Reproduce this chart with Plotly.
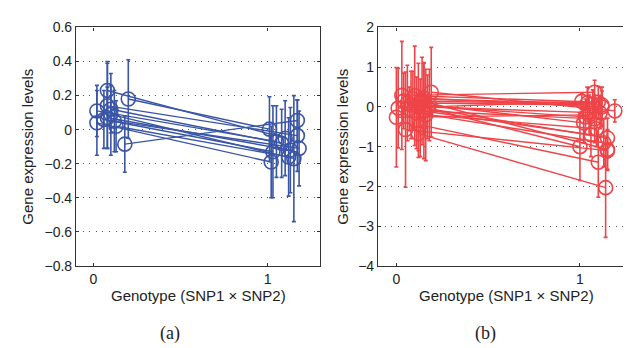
import plotly.graph_objects as go

# ---- data: panel (a) ----
a_x_left = [0.02, 0.02, 0.08, 0.08, 0.08, 0.06, 0.10, 0.13, 0.20, 0.18, 0.12, 0.10]
a_y_left = [0.11, 0.04, 0.23, 0.14, 0.07, 0.06, 0.09, 0.02, 0.18, -0.085, 0.05, 0.12]
a_e_left = [0.15, 0.19, 0.17, 0.25, 0.18, 0.17, 0.24, 0.15, 0.23, 0.165, 0.18, 0.14]
a_x_right = [1.05, 1.02, 1.10, 1.17, 1.13, 1.03, 1.15, 1.12, 1.01, 1.17, 1.18, 1.08]
a_y_right = [-0.07, -0.19, -0.05, -0.035, -0.12, -0.13, -0.17, -0.16, 0.003, 0.054, -0.11, -0.08]
a_e_right = [0.21, 0.21, 0.22, 0.21, 0.25, 0.27, 0.37, 0.23, 0.19, 0.12, 0.22, 0.20]

# ---- data: panel (b) ----
b_x_left = [0.03, 0.01, 0.00, 0.05, 0.10, 0.19, 0.06, 0.13, 0.12, 0.14, 0.15, 0.18,
            0.16, 0.09, 0.13, 0.07, 0.17, 0.11, 0.04, 0.12, 0.08, 0.15]
b_y_left = [0.29, -0.03, -0.26, -0.57, 0.28, 0.37, 0.10, -0.45, 0.00, 0.15, -0.10, 0.05,
            -0.20, 0.20, 0.10, -0.05, 0.00, -0.15, 0.15, -0.67, 0.05, 0.22]
b_e_left = [1.36, 1.00, 1.25, 1.45, 1.25, 1.13, 0.95, 0.80, 1.10, 1.10, 1.20, 0.90,
            1.15, 0.70, 0.60, 0.55, 0.80, 0.90, 0.70, 0.60, 0.85, 0.90]
b_x_right = [1.08, 1.01, 1.05, 1.15, 1.10, 1.19, 1.00, 1.10, 1.15, 1.15, 1.08, 1.02,
             1.09, 1.04, 1.12, 1.06, 1.11, 1.13, 1.07, 1.14, 1.03, 1.12]
b_y_right = [0.37, 0.14, -0.20, -1.10, 0.12, -0.10, -1.00, -1.39, -0.78, -1.07, -0.30, -0.40,
             -0.55, 0.10, 0.05, -0.70, -0.15, -0.90, 0.08, -2.03, -0.25, 0.00]
b_e_right = [0.30, 0.20, 0.50, 0.50, 0.40, 0.28, 0.85, 0.88, 0.50, 0.50, 0.60, 0.50,
             0.45, 0.40, 0.35, 0.55, 0.40, 0.60, 0.35, 1.25, 0.45, 0.50]

BLUE = "#3a55a5"
RED = "#ee4448"

fig = go.Figure()


def add_panel(xl, yl, el, xr, yr, er, color, xa, ya):
    for i in range(len(xl)):
        fig.add_trace(go.Scatter(
            x=[xl[i], xr[i]], y=[yl[i], yr[i]],
            mode="lines+markers",
            line=dict(color=color, width=1.4),
            marker=dict(symbol="circle-open", size=14, color=color,
                        line=dict(width=1.6, color=color)),
            error_y=dict(type="data", array=[el[i], er[i]], visible=True,
                         color=color, thickness=1.6, width=2),
            xaxis=xa, yaxis=ya, showlegend=False, hoverinfo="skip",
        ))


add_panel(a_x_left, a_y_left, a_e_left, a_x_right, a_y_right, a_e_right, BLUE, "x", "y")
add_panel(b_x_left, b_y_left, b_e_left, b_x_right, b_y_right, b_e_right, RED, "x2", "y2")

W, H = 631, 348
FONT = "Liberation Sans, Arial, sans-serif"
TXT = "#222222"

axis_common = dict(
    showline=True, linecolor="#333333", linewidth=1.2, mirror="ticks",
    ticks="inside", ticklen=3, tickcolor="#333333", zeroline=False,
    tickfont=dict(family=FONT, size=14, color=TXT),
)
grid = dict(showgrid=True, gridcolor="#555555", griddash="1px,5.6px", gridwidth=1)

ydom = [1 - 262 / H, 1 - 12 / H]
fig.update_layout(
    width=W, height=H,
    margin=dict(l=0, r=0, t=0, b=0),
    paper_bgcolor="white", plot_bgcolor="white",
    xaxis=dict(domain=[68 / W, 312 / W], range=[-0.1, 1.3], tickvals=[0, 1],
               showgrid=False, anchor="y", **axis_common),
    yaxis=dict(domain=ydom, range=[-0.8, 0.6], dtick=0.2, tick0=0,
               anchor="x", **grid, **axis_common),
    xaxis2=dict(domain=[370 / W, 627 / W], range=[-0.1, 1.3], tickvals=[0, 1],
                showgrid=False, anchor="y2", **axis_common),
    yaxis2=dict(domain=ydom, range=[-4, 2], dtick=1, tick0=0,
                anchor="x2", **grid, **axis_common),
)

ann = []
for cx, ytx in [(20, "Gene expression levels"), (335, "Gene expression levels")]:
    ann.append(dict(x=cx / W, y=1 - 137 / H, xref="paper", yref="paper",
                    xanchor="center", yanchor="middle",
                    text=ytx, textangle=-90, showarrow=False,
                    font=dict(family=FONT, size=15, color=TXT)))
for cx in [190, 498]:
    ann.append(dict(x=cx / W, y=1 - 293 / H, xref="paper", yref="paper",
                    xanchor="center", yanchor="middle",
                    text="Genotype (SNP1 × SNP2)", showarrow=False,
                    font=dict(family=FONT, size=15, color=TXT)))
for cx, lab in [(162, "(a)"), (477, "(b)")]:
    ann.append(dict(x=cx / W, y=1 - 333 / H, xref="paper", yref="paper",
                    xanchor="center", yanchor="middle",
                    text=lab, showarrow=False,
                    font=dict(family="Liberation Serif, Times New Roman, serif",
                              size=18, color=TXT)))
fig.update_layout(annotations=ann)

fig.write_html("out.html")
